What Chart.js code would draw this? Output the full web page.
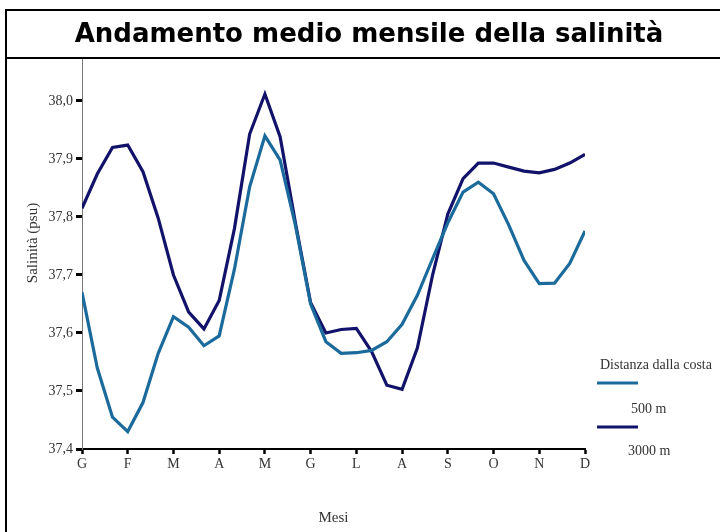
<!DOCTYPE html>
<html>
<head>
<meta charset="utf-8">
<script src="https://cdn.jsdelivr.net/npm/chart.js@4/dist/chart.umd.min.js"></script>
<style>
html,body{margin:0;padding:0;background:#fff;}
#wrap{width:720px;height:532px;position:relative;}
</style>
</head>
<body>
<div id="wrap"><canvas id="c" width="720" height="532"></canvas></div>
<script>
// ---- data ----
const chartTitle = 'Andamento medio mensile della salinità';
const months = ['G','F','M','A','M','G','L','A','S','O','N','D'];
const yTicks = [37.4, 37.5, 37.6, 37.7, 37.8, 37.9, 38.0];
const yTickLabels = ['37,4','37,5','37,6','37,7','37,8','37,9','38,0'];
const pointsPerMonth = 3;
const legendTitle = 'Distanza dalla costa';
const seriesNames = ['500 m', '3000 m'];
const s500 = [37.67,37.54,37.455,37.43,37.48,37.565,37.628,37.61,37.578,37.595,
  37.71,37.852,37.94,37.898,37.786,37.65,37.585,37.565,37.566,37.57,
  37.585,37.615,37.665,37.728,37.79,37.843,37.86,37.84,37.786,37.725,
  37.685,37.686,37.72,37.776];
const s3000 = [37.815,37.874,37.92,37.924,37.878,37.798,37.70,37.636,37.607,37.656,
  37.78,37.943,38.012,37.938,37.79,37.652,37.60,37.606,37.608,37.568,
  37.51,37.503,37.574,37.70,37.805,37.866,37.893,37.893,37.886,37.879,
  37.876,37.882,37.893,37.908];
const colors = ['#1b6a9c', '#12126b'];

const toXY = arr => arr.map((v, i) => ({x: i / pointsPerMonth, y: v}));

const framePlugin = {
  id: 'frame',
  afterDraw(chart) {
    const ctx = chart.ctx;
    ctx.save();
    // frame
    ctx.strokeStyle = '#000';
    ctx.lineWidth = 2;
    ctx.beginPath();
    ctx.moveTo(6, 532); ctx.lineTo(6, 10); ctx.lineTo(722, 10);
    ctx.moveTo(6, 58); ctx.lineTo(722, 58);
    ctx.stroke();
    // title
    ctx.fillStyle = '#000';
    ctx.font = 'bold 26px "DejaVu Sans"';
    ctx.textAlign = 'center';
    ctx.textBaseline = 'middle';
    ctx.fillText(chartTitle, 369, 35);
    // y axis title
    ctx.save();
    ctx.translate(33, 243);
    ctx.rotate(-Math.PI / 2);
    ctx.font = '15px "Liberation Serif"';
    ctx.fillStyle = '#333';
    ctx.fillText('Salinità (psu)', 0, 0);
    ctx.restore();
    // legend
    ctx.font = '14px "Liberation Serif"';
    ctx.fillStyle = '#333';
    ctx.textAlign = 'left';
    ctx.fillText(legendTitle, 600, 365);
    const ds = chart.data.datasets;
    const rows = [{ly: 383, tx: 631, ty: 409}, {ly: 427, tx: 628, ty: 451}];
    ds.forEach((d, i) => {
      ctx.strokeStyle = d.borderColor;
      ctx.lineWidth = 3;
      ctx.beginPath();
      ctx.moveTo(597, rows[i].ly); ctx.lineTo(638, rows[i].ly);
      ctx.stroke();
      ctx.fillStyle = '#333';
      ctx.fillText(d.label, rows[i].tx, rows[i].ty);
    });
    ctx.restore();
  }
};

new Chart(document.getElementById('c'), {
  type: 'line',
  data: {
    datasets: [
      {label: seriesNames[0], data: toXY(s500), borderColor: colors[0], borderWidth: 3.2, pointRadius: 0, tension: 0, fill: false},
      {label: seriesNames[1], data: toXY(s3000), borderColor: colors[1], borderWidth: 3.2, pointRadius: 0, tension: 0, fill: false}
    ]
  },
  options: {
    responsive: false,
    animation: false,
    devicePixelRatio: 1,
    layout: {padding: {left: 0, top: 58, right: 135, bottom: 0}},
    plugins: {legend: {display: false}, title: {display: false}, tooltip: {enabled: false}},
    scales: {
      x: {
        type: 'linear', min: 0, max: months.length - 1,
        afterBuildTicks: s => { s.ticks = months.map((m, i) => ({value: i})); },
        afterFit: s => { s.height = 83; },
        ticks: {
          callback: (v, i) => months[i],
          font: {family: 'Liberation Serif', size: 14},
          color: '#333', padding: 2, maxRotation: 0, autoSkip: false
        },
        grid: {drawOnChartArea: false, tickLength: 5, tickWidth: 2.5, tickColor: '#000'},
        border: {display: true, color: '#000', width: 2},
        title: {display: true, text: 'Mesi', font: {family: 'Liberation Serif', size: 15}, color: '#333', padding: {top: 0, bottom: 5}}
      },
      y: {
        type: 'linear', min: 37.4, max: 38.0741,
        afterBuildTicks: s => { s.ticks = yTicks.map(v => ({value: v})); },
        afterFit: s => { s.width = 82; },
        ticks: {
          callback: (v, i) => yTickLabels[i],
          font: {family: 'Liberation Serif', size: 14},
          color: '#333', padding: 3, autoSkip: false
        },
        grid: {drawOnChartArea: false, tickLength: 6, tickWidth: 3, tickColor: '#000'},
        border: {display: true, color: '#777', width: 1}
      }
    }
  },
  plugins: [framePlugin]
});
</script>
</body>
</html>
